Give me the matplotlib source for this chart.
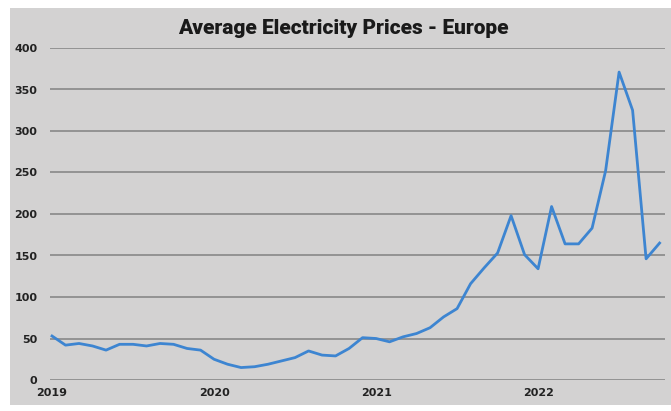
import matplotlib.pyplot as plt
from matplotlib.patches import Rectangle

# monthly average price, Jan 2019 .. Oct 2022
months = list(range(46))
prices = [53, 42, 44, 41, 36, 43, 43, 41, 44, 43, 38, 36,
          25, 19, 15, 16, 19, 23, 27, 35, 30, 29, 38, 51,
          50, 46, 52, 56, 63, 76, 86, 116, 135, 153, 198, 151,
          134, 209, 164, 164, 183, 252, 371, 325, 146, 165]
year_ticks = [0, 12, 24, 36]
year_labels = ['2019', '2020', '2021', '2022']
y_ticks = [0, 50, 100, 150, 200, 250, 300, 350, 400]

fig = plt.figure(figsize=(6.71, 4.11), dpi=100, facecolor='white')
fig.patches.append(Rectangle((10 / 671, 0.015), 1, 1 - 8 / 411 - 0.015,
                             transform=fig.transFigure, facecolor='#d3d2d2',
                             edgecolor='none', zorder=0))
ax = fig.add_axes([50 / 671, 1 - 380 / 411, 615 / 671, 332 / 411])
ax.set_facecolor('none')
ax.set_zorder(2)

ax.plot(months, prices, color='#3d85d1', linewidth=2, zorder=3)

ax.set_ylim(0, 400)
ax.set_xlim(-0.15, 45.4)
ax.set_yticks(y_ticks)
ax.set_xticks(year_ticks)
ax.set_xticklabels(year_labels)
for y in y_ticks:
    ax.axhline(y, color='#8e8e8e', linewidth=1.3, zorder=1)

for s in ax.spines.values():
    s.set_visible(False)
ax.tick_params(length=0, labelsize=8, colors='#222222')
ax.tick_params(axis='y', pad=9)
ax.tick_params(axis='x', pad=6)
for lab in ax.get_xticklabels() + ax.get_yticklabels():
    lab.set_fontweight('bold')

fig.text(343 / 671, 1 - 28 / 411, 'Average Electricity Prices - Europe',
         ha='center', va='center', fontsize=15, fontweight='black',
         family='Roboto', color='#1a1a1a', zorder=3)

fig.savefig('out.png', dpi=100, facecolor='white')
